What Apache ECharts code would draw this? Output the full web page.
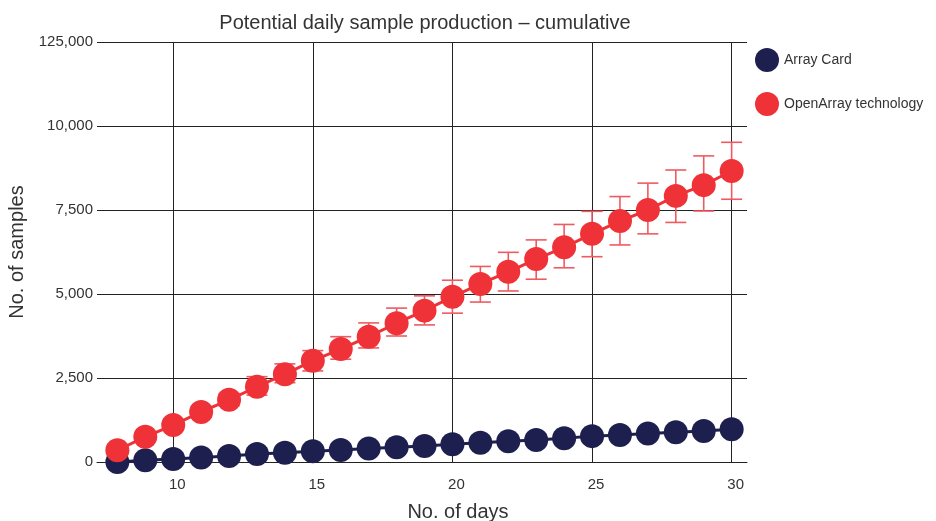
<!DOCTYPE html>
<html>
<head>
<meta charset="utf-8">
<script src="https://cdn.jsdelivr.net/npm/echarts@6/dist/echarts.min.js"></script>
<style>html,body{margin:0;padding:0;background:#fff}#c{width:936px;height:521px}</style>
</head>
<body>
<div id="c"></div>
<script>
const days = [8,9,10,11,12,13,14,15,16,17,18,19,20,21,22,23,24,25,26,27,28,29,30];
const arrayCard = [0,55,90,135,180,235,275,320,360,405,440,476,526,575,620,655,705,770,805,850,885,925,975];
const openArray = [350,750,1100,1490,1850,2240,2610,3015,3360,3730,4130,4505,4915,5300,5660,6040,6390,6790,7170,7500,7920,8240,8660];
const openArrayLow = [315,675,990,1340,1670,1990,2360,2710,3060,3395,3750,4080,4430,4760,5090,5440,5780,6110,6460,6790,7130,7470,7820];
const openArrayHigh = [385,825,1210,1640,2040,2540,2920,3315,3730,4140,4580,4945,5410,5820,6240,6610,7070,7460,7900,8300,8690,9110,9515];
const xTicks = [10,15,20,25,30];
const yTickLabels = {0:'0',2500:'2,500',5000:'5,000',7500:'7,500',10000:'10,000',12500:'125,000'};

const FONT = '"Liberation Sans", Arial, sans-serif';
const NAVY = '#1d1f4e';
const RED = '#ee3238';
const ERR = '#ef5a60';

const chart = echarts.init(document.getElementById('c'));
chart.setOption({
  animation: false,
  backgroundColor: '#fff',
  title: {
    text: 'Potential daily sample production \u2013 cumulative',
    left: 420, top: 8, textAlign: 'center',
    textStyle: {fontFamily: FONT, fontSize: 20, fontWeight: 'normal', color: '#333'}
  },
  legend: {
    orient: 'vertical', left: 750, top: 43, itemWidth: 24, itemHeight: 24, itemGap: 20,
    icon: 'circle', data: ['Array Card', 'OpenArray technology'],
    textStyle: {fontFamily: FONT, fontSize: 14, color: '#333'}
  },
  grid: {left: 97, right: 189, top: 42, bottom: 59, containLabel: false, outerBoundsMode: 'none'},
  xAxis: {
    type: 'value', min: 7.27, max: 30.55,
    name: 'No. of days', nameLocation: 'middle', nameGap: 40,
    nameTextStyle: {fontFamily: FONT, fontSize: 20, color: '#333', padding: [0,0,0,72]},
    axisLine: {show: true, lineStyle: {color: '#222', width: 1}},
    axisTick: {show: false, customValues: xTicks},
    axisLabel: {customValues: xTicks, fontFamily: FONT, fontSize: 15, color: '#333', margin: 15, padding: [0,0,0,8]},
    splitLine: {show: true, lineStyle: {color: '#222', width: 1}}
  },
  yAxis: {
    type: 'value', min: 0, max: 12500, interval: 2500,
    name: 'No. of samples', nameLocation: 'middle', nameGap: 70,
    nameTextStyle: {fontFamily: FONT, fontSize: 20, color: '#333'},
    axisLine: {show: false},
    axisTick: {show: false},
    axisLabel: {fontFamily: FONT, fontSize: 15, color: '#333', margin: 4,
      formatter: v => yTickLabels[v] !== undefined ? yTickLabels[v] : ''},
    splitLine: {show: true, lineStyle: {color: '#222', width: 1}}
  },
  series: [
    {
      type: 'custom', name: 'err', z: 1, silent: true,
      data: days.map((d, i) => [d, openArrayLow[i], openArrayHigh[i]]),
      encode: {x: 0, y: [1, 2]},
      renderItem: function (params, api) {
        const x = api.value(0);
        const top = api.coord([x, api.value(2)]);
        const bot = api.coord([x, api.value(1)]);
        const hw = 10.5;
        const st = {stroke: ERR, lineWidth: 1.6};
        return {type: 'group', children: [
          {type: 'line', shape: {x1: top[0], y1: top[1], x2: bot[0], y2: bot[1]}, style: st},
          {type: 'line', shape: {x1: top[0]-hw, y1: top[1], x2: top[0]+hw, y2: top[1]}, style: st},
          {type: 'line', shape: {x1: bot[0]-hw, y1: bot[1], x2: bot[0]+hw, y2: bot[1]}, style: st}
        ]};
      }
    },
    {
      type: 'line', name: 'Array Card', z: 3,
      data: days.map((d, i) => [d, arrayCard[i]]),
      symbol: 'circle', symbolSize: 24, showAllSymbol: true,
      itemStyle: {color: NAVY}, lineStyle: {color: NAVY, width: 3}
    },
    {
      type: 'line', name: 'OpenArray technology', z: 4,
      data: days.map((d, i) => [d, openArray[i]]),
      symbol: 'circle', symbolSize: 24, showAllSymbol: true,
      itemStyle: {color: RED}, lineStyle: {color: RED, width: 3}
    }
  ]
});
</script>
</body>
</html>
